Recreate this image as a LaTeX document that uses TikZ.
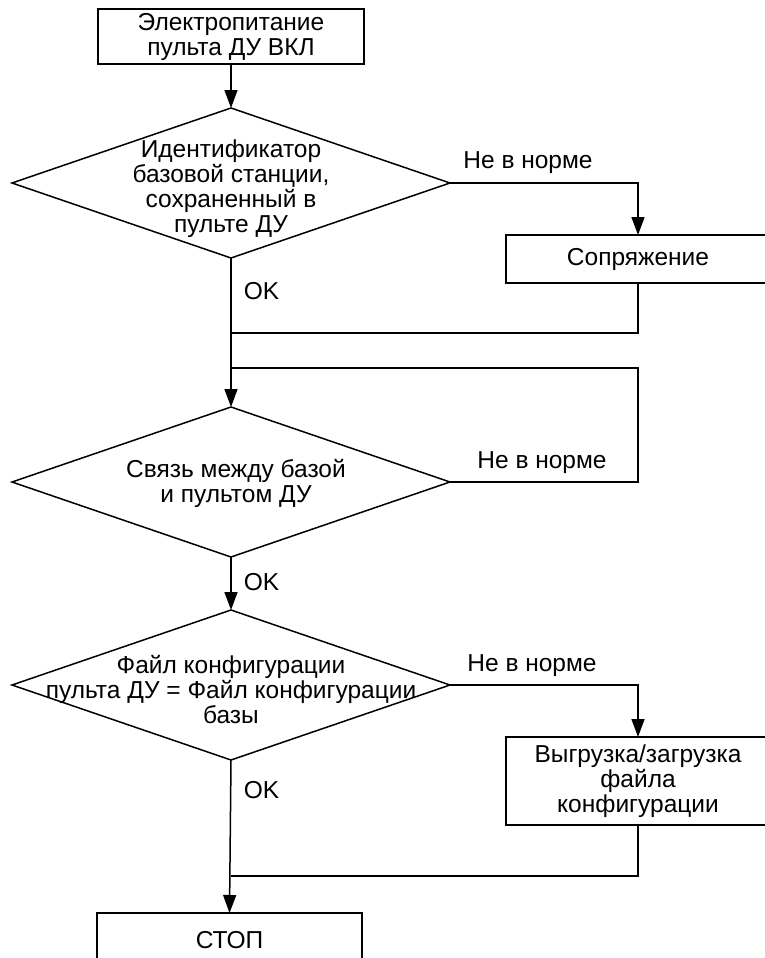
\documentclass[tikz,border=0pt]{standalone}
\usepackage{fontspec}
\setmainfont{Liberation Sans}
\usetikzlibrary{shapes.geometric,arrows.meta}

\begin{document}
\begin{tikzpicture}[x=1pt,y=-1pt,line width=1.5pt,
	font=\fontsize{24.5}{25}\selectfont,
	blok/.style={draw,rectangle,inner sep=0pt,outer sep=0pt,align=center},
	romb/.style={draw,diamond,inner sep=0pt,outer sep=0pt,minimum width=438pt,minimum height=150pt},
	txt/.style={align=center,inner sep=0pt},
	strelka/.style={-{Triangle[length=18pt,width=13pt]}}]
	\useasboundingbox (0,0) rectangle (765,958);
	% bloki
	\node[blok,minimum width=266pt,minimum height=55pt] (pit) at (231,36.5) {Электропитание\\пульта ДУ ВКЛ};
	\node[romb] (id) at (231,183) {};
	\node[txt] (idt) at (231,189) {Идентификатор\\базовой станции,\\сохраненный в\\пульте ДУ};
	\node[blok,minimum width=264pt,minimum height=48pt] (sopr) at (638,259) {Сопряжение};
	\node[romb] (svz) at (231,482) {};
	\node[txt] (svzt) at (236,483) {Связь между базой\\и пультом ДУ};
	\node[romb] (fk) at (231,685) {};
	\node[txt] (fkt) at (231,690) {Файл конфигурации\\пульта ДУ = Файл конфигурации\\базы};
	\node[blok,minimum width=264pt,minimum height=88pt] (vyg) at (638,781) {Выгрузка/загрузка\\файла\\конфигурации};
	\node[blok,minimum width=265pt,minimum height=54pt] (stop) at (229.5,940) {СТОП};
	\coordinate (j1) at (231,333);
	\coordinate (j2) at (231,368);
	\coordinate (j3) at (231,876);
	% strelki
	\draw[strelka] (pit) -- (id.north);
	\draw[strelka] (id.east) -| (sopr.north);
	\draw (sopr.south) |- (j1);
	\draw[strelka] (id.south) -- (svz.north);
	\draw (svz.east) -| (sopr.south |- j2) -- (j2);
	\draw[strelka] (svz.south) -- (fk.north);
	\draw[strelka] (fk.east) -| (vyg.north);
	\draw (vyg.south) |- (j3);
	\draw[strelka] (fk.south) -- (stop.north);
	% podpisi
	\node[txt,anchor=west] (ok1) at (243,291) {OK};
	\node[txt,anchor=west] (ok2) at (243,582) {OK};
	\node[txt,anchor=west] (ok3) at (243,790) {OK};
	\node[txt] (nn1) at (528,163) {Не в норме};
	\node[txt] (nn2) at (542,463) {Не в норме};
	\node[txt] (nn3) at (532,666) {Не в норме};
\end{tikzpicture}
\end{document}
